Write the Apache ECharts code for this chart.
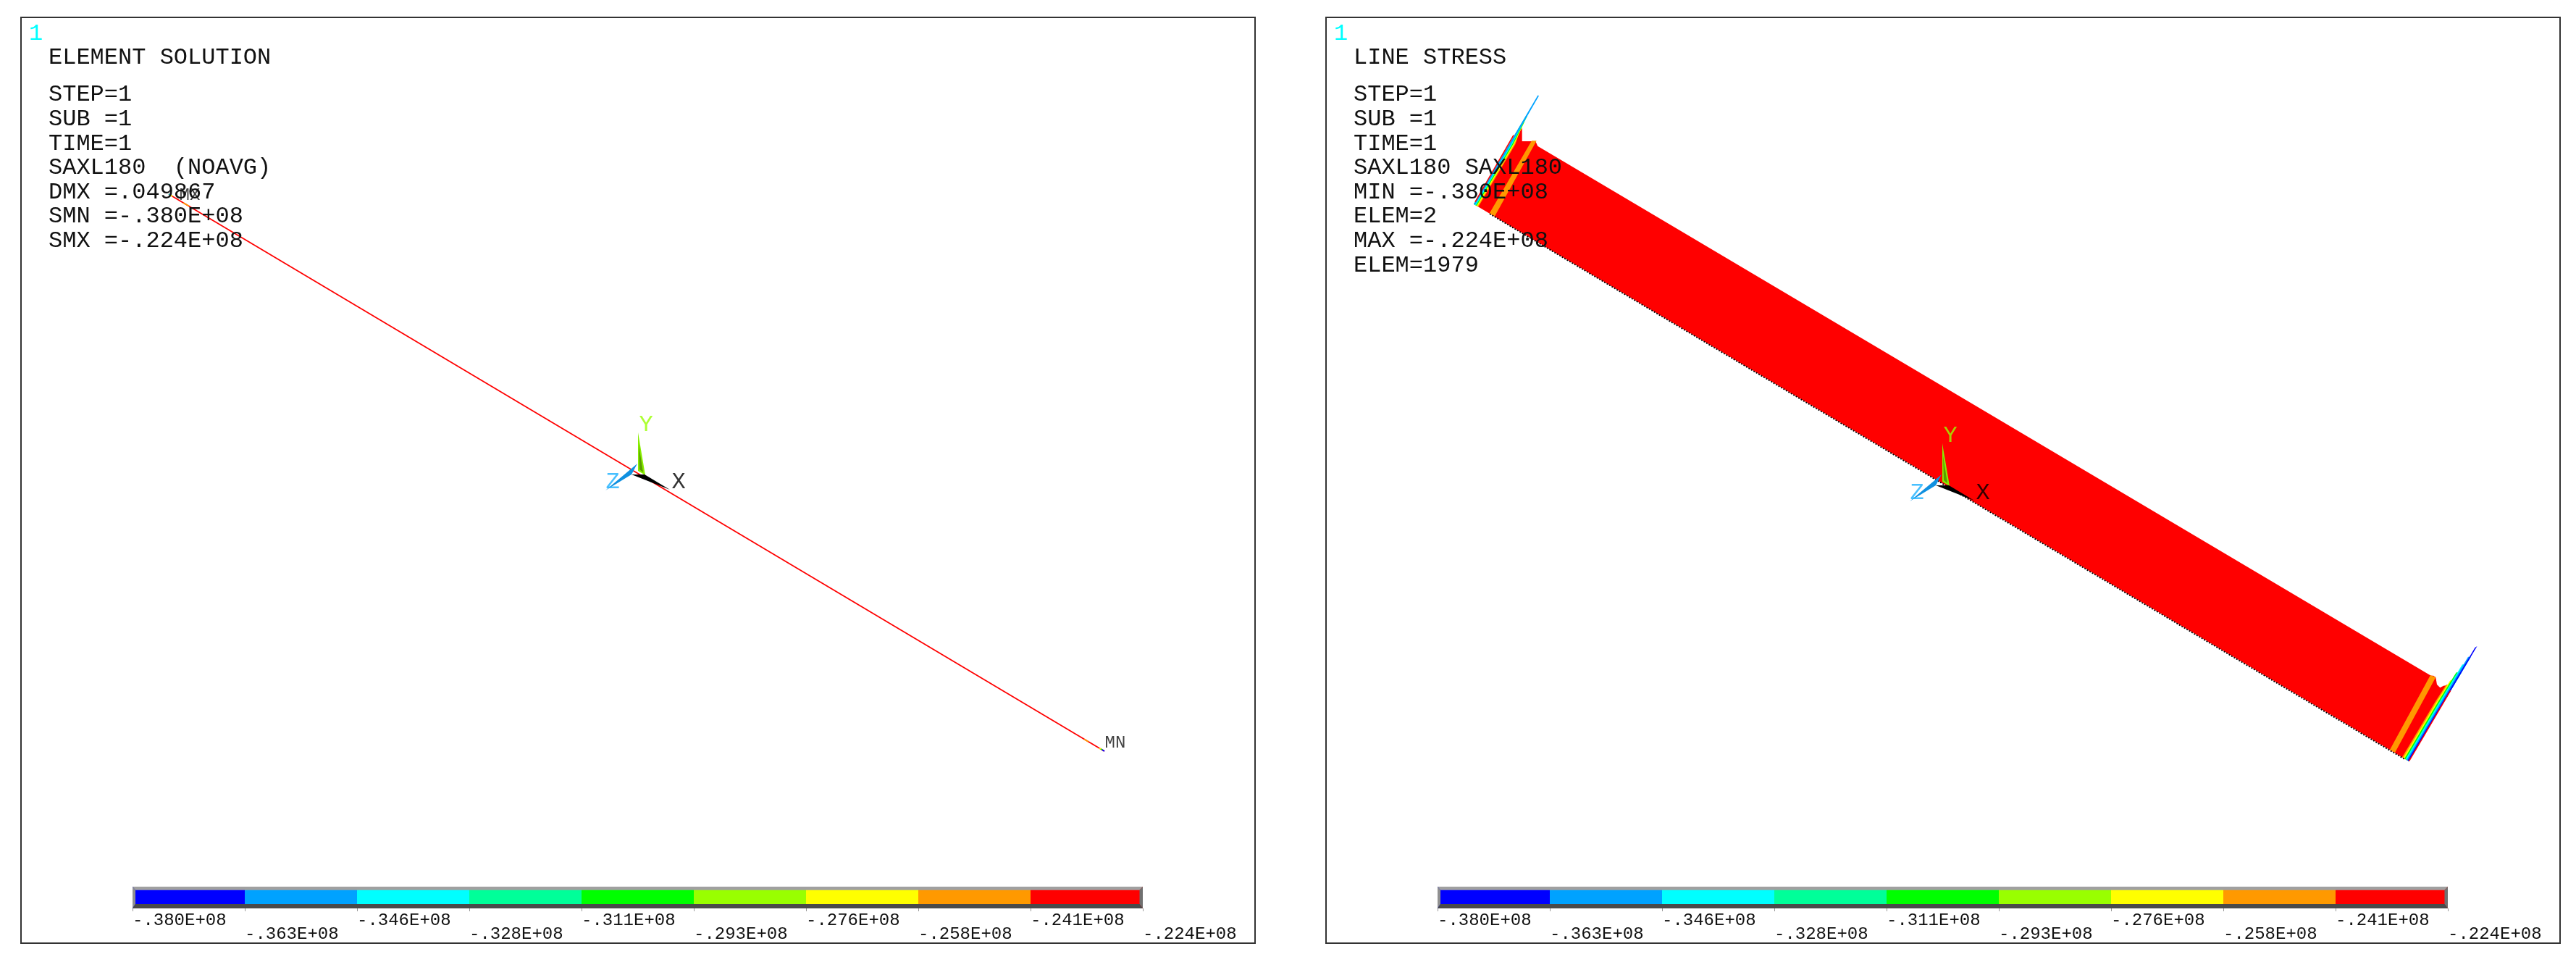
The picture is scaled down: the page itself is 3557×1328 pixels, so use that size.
<!DOCTYPE html>
<html>
<head>
<meta charset="utf-8">
<style>html,body{margin:0;padding:0;background:#fff}#main{width:3557px;height:1328px}</style>
<script src="https://cdn.jsdelivr.net/npm/echarts@6/dist/echarts.min.js"></script>
</head>
<body>
<div id="main"></div>
<script>
// contour bands, blue to red
var bandColors = ['#0000ff', '#00a2ff', '#00ffff', '#00ff99', '#00ff00', '#99ff00', '#ffff00', '#ff9900', '#ff0000'];
var tickLabels = ['-.380E+08', '-.363E+08', '-.346E+08', '-.328E+08', '-.311E+08', '-.293E+08', '-.276E+08', '-.258E+08', '-.241E+08', '-.224E+08'];

var leftTitle = 'ELEMENT SOLUTION';
var leftInfo = ['STEP=1', 'SUB =1', 'TIME=1', 'SAXL180  (NOAVG)', 'DMX =.049867', 'SMN =-.380E+08', 'SMX =-.224E+08'];
var rightTitle = 'LINE STRESS';
var rightInfo = ['STEP=1', 'SUB =1', 'TIME=1', 'SAXL180 SAXL180', 'MIN =-.380E+08', 'ELEM=2', 'MAX =-.224E+08', 'ELEM=1979'];

// left plot: element drawn as a line, [band, x1, y1, x2, y2]
var beamSegments = [
  [8, 204, 244, 1496, 1013],
  [7, 224, 256, 232, 260.5],
  [2, 204, 244, 206, 245],
  [6, 206, 245, 209, 247],
  [7, 1468, 996.5, 1474, 1000],
  [6, 1489, 1009, 1491, 1010],
  [4, 1491, 1010, 1493, 1011],
  [0, 1493, 1011, 1496, 1013]
];
var extremeNames = ['MX', 'MN'];
var extremePoints = [[233, 246], [1511, 1002]];

// right plot: the stress strip across the element, painted back to front
var stripBody = [[204, 257.7], [260, 163], [270.7, 153], [270.7, 171], [287.3, 171], [289.7, 172], [292.3, 177.7], [1525.7, 908.7], [1529, 908.7], [1532.3, 911], [1534, 921], [1538.3, 925.3], [1543, 922.7], [1547.3, 922], [1495, 1026.7]];
var stripBands = [
  [7, [[284, 170.3], [290.7, 170.3], [233, 274.5], [225.7, 270.6]]],
  [7, [[1525, 908], [1532.3, 911], [1476, 1015], [1469, 1011]]],
  // upstream end
  [7, [[270.7, 151], [265.5, 163], [261.5, 175], [210.3, 261.5], [204, 257.7], [267.3, 151]]],
  [6, [[274, 144.3], [260, 175], [209.2, 260.8], [204, 257.7], [271.3, 144.3]]],
  [4, [[278, 136], [258.5, 175], [208, 260], [204, 257.7], [276.2, 136]]],
  [2, [[284, 124.3], [257, 175], [207, 259.5], [204, 257.7], [283.2, 124.3]]],
  [1, [[294, 108.3], [255.5, 175], [205.8, 258.8], [204, 257.7], [292.5, 107.5]]],
  // downstream end
  [7, [[1547, 921], [1531.5, 945], [1486, 1021.3], [1495, 1026.7], [1557.7, 921]]],
  [6, [[1552.3, 915.3], [1533.5, 945], [1487.6, 1022.3], [1495, 1026.7], [1561, 915.3]]],
  [4, [[1560.7, 904.3], [1535.5, 945], [1489.1, 1023.2], [1495, 1026.7], [1568, 904.3]]],
  [2, [[1569, 893.3], [1537.5, 945], [1490.6, 1024], [1495, 1026.7], [1574, 893.3]]],
  [1, [[1577, 882.7], [1539.5, 945], [1492, 1024.9], [1495, 1026.7], [1581, 882.7]]],
  [0, [[1586.5, 870], [1541.5, 945], [1493.5, 1025.8], [1495, 1026.7], [1589.5, 868]]]
];
var stripFringe = [[[259, 162.7], [206, 254.5]], [[1552.7, 929.3], [1495.5, 1026.7]]];
var stripEdge = [[226, 271.2], [1490, 1024.4]];

// global triad, [colour, points], drawn for the left plot and moved for the right one
var triadPolys = [
  ['#88ee00', [[852, 573], [852, 626], [862, 632]]],
  ['#5a9e00', [[853, 590], [854, 624], [859, 628]]],
  ['#000000', [[896, 652], [843, 631], [861, 631]]],
  ['#0f90e0', [[807, 653], [851, 616], [843, 631]]]
];
var triadNames = ['Y', 'Z', 'X'];
var triadNameColors = ['#99ff00', '#1ab0ff', '#000000'];
var triadNamePoints = [[863, 563], [817, 642], [908, 642]];
var rightTriadShift = [-1, 15];

var FONT = '"Liberation Mono"';
var frameW = 1704, frameH = 1278, frameTop = 24;
var panelLeft = [29, 1831];
var barLeftInFrame = 154, barWidth = 1395, barTop = 1224, barHeight = 30;

var grids = [], xAxes = [], yAxes = [], series = [], graphics = [];

function polySeries(gridIdx, polys, z) {
  return {
    type: 'custom', xAxisIndex: gridIdx.x, yAxisIndex: gridIdx.y, z: z, clip: false, silent: true,
    data: polys.map(function (p, i) { return [i]; }),
    encode: { x: 0 },
    renderItem: function (params, api) {
      var p = polys[params.dataIndex];
      return {
        type: 'polygon',
        shape: { points: p[1].map(function (pt) { return api.coord(pt); }) },
        style: { fill: p[0] }
      };
    }
  };
}

function labelSeries(gridIdx, names, points, colors, size) {
  return {
    type: 'scatter', xAxisIndex: gridIdx.x, yAxisIndex: gridIdx.y, z: 20, silent: true,
    symbolSize: 0,
    data: points.map(function (pt, i) {
      return {
        value: pt,
        label: {
          show: true, position: 'inside', formatter: names[i], color: colors ? colors[i] : '#111',
          fontFamily: FONT, fontSize: size
        }
      };
    })
  };
}

function addPanel(p, title, info) {
  var left = panelLeft[p];
  // plot area
  grids.push({ left: left, top: frameTop, width: frameW, height: frameH, show: true, backgroundColor: '#fff', borderColor: '#333', borderWidth: 2 });
  var plotGrid = grids.length - 1;
  xAxes.push({ gridIndex: plotGrid, type: 'value', min: 0, max: frameW, show: false });
  var plotX = xAxes.length - 1;
  yAxes.push({ gridIndex: plotGrid, type: 'value', min: 0, max: frameH, inverse: true, show: false });
  var plotY = yAxes.length - 1;
  var idx = { x: plotX, y: plotY };

  if (p === 0) {
    series.push({
      type: 'lines', coordinateSystem: 'cartesian2d', xAxisIndex: plotX, yAxisIndex: plotY, z: 5, silent: true,
      data: beamSegments.map(function (s) {
        return { coords: [[s[1], s[2]], [s[3], s[4]]], lineStyle: { color: bandColors[s[0]], width: 1.8, opacity: 1 } };
      })
    });
    series.push(labelSeries(idx, extremeNames, extremePoints, null, 24));
  } else {
    var polys = [[bandColors[8], stripBody]].concat(stripBands.map(function (b) { return [bandColors[b[0]], b[1]]; }));
    series.push(polySeries(idx, polys, 5));
    series.push({
      type: 'lines', coordinateSystem: 'cartesian2d', xAxisIndex: plotX, yAxisIndex: plotY, z: 6, silent: true,
      data: stripFringe.map(function (c) { return { coords: c, lineStyle: { color: '#ff0000', width: 1.5, opacity: 1 } }; })
        .concat([{ coords: stripEdge, lineStyle: { color: '#000', width: 1.8, type: [2, 2], opacity: 1 } }])
    });
  }

  // triad
  var shift = p === 0 ? [0, 0] : rightTriadShift;
  series.push(polySeries(idx, triadPolys.map(function (t) {
    return [t[0], t[1].map(function (pt) { return [pt[0] + shift[0], pt[1] + shift[1]]; })];
  }), 8));
  series.push(labelSeries(idx, triadNames, triadNamePoints.map(function (pt) {
    return [pt[0] + shift[0], pt[1] + shift[1]];
  }), triadNameColors, 32));

  // contour key
  grids.push({ left: left + barLeftInFrame, top: barTop, width: barWidth, height: barHeight });
  var barGrid = grids.length - 1;
  xAxes.push({
    gridIndex: barGrid, type: 'category', data: tickLabels, position: 'bottom', boundaryGap: false,
    axisLine: { show: false },
    axisTick: { show: true, alignWithLabel: true, length: 4, lineStyle: { color: '#999', width: 1 } },
    axisLabel: {
      interval: 0, align: 'left', margin: 5, color: '#111', fontFamily: FONT, fontSize: 24, showMaxLabel: true, hideOverlap: false,
      formatter: function (v, i) { return i % 2 === 0 ? v : ''; }
    }
  });
  var barX = xAxes.length - 1;
  xAxes.push({
    gridIndex: barGrid, type: 'category', data: tickLabels, position: 'bottom', boundaryGap: false,
    axisLine: { show: false }, axisTick: { show: false },
    axisLabel: {
      interval: 0, align: 'left', margin: 24, color: '#111', fontFamily: FONT, fontSize: 24, showMaxLabel: true, hideOverlap: false,
      formatter: function (v, i) { return i % 2 === 1 ? v : ''; }
    }
  });
  yAxes.push({ gridIndex: barGrid, type: 'value', min: 0, max: 1, show: false });
  var barY = yAxes.length - 1;
  series.push({
    type: 'custom', xAxisIndex: barX, yAxisIndex: barY, z: 3, silent: true,
    data: bandColors.map(function (c, i) { return [i]; }),
    renderItem: function (params, api) {
      var i = params.dataIndex;
      var a = api.coord([i, 1]), b = api.coord([i + 1, 0]);
      return { type: 'rect', shape: { x: a[0], y: a[1], width: b[0] - a[0], height: b[1] - a[1] }, style: { fill: bandColors[i] } };
    }
  });

  // bevel round the key
  var kx = left + barLeftInFrame, kr = kx + barWidth, kb = barTop + barHeight;
  [
    ['#a0a0a0', [[kx, barTop], [kr, barTop], [kr - 4.5, barTop + 4.7], [kx + 4, barTop + 4.7]]],
    ['#909090', [[kx, barTop], [kx + 4, barTop + 4.7], [kx + 4, kb - 6], [kx, kb]]],
    ['#707070', [[kr, barTop], [kr - 4.5, barTop + 4.7], [kr - 4.5, kb - 6], [kr, kb]]],
    ['#4a4a4a', [[kx, kb], [kx + 4, kb - 6], [kr - 4.5, kb - 6], [kr, kb]]]
  ].forEach(function (b) {
    graphics.push({ type: 'polygon', z: 50, silent: true, shape: { points: b[1] }, style: { fill: b[0] } });
  });

  // window number and status text
  var textX = left + 38;
  graphics.push({ type: 'text', z: 100, silent: true, x: left + 11, y: 47, style: { text: '1', fill: '#00ffff', font: '32px ' + FONT, textVerticalAlign: 'middle' } });
  graphics.push({ type: 'text', z: 100, silent: true, x: textX, y: 80, style: { text: title, fill: '#111', font: '32px ' + FONT, textVerticalAlign: 'middle' } });
  info.forEach(function (line, i) {
    graphics.push({ type: 'text', z: 100, silent: true, x: textX, y: 131 + i * 33.6, style: { text: line, fill: '#111', font: '32px ' + FONT, textVerticalAlign: 'middle' } });
  });
}

addPanel(0, leftTitle, leftInfo);
addPanel(1, rightTitle, rightInfo);

var chart = echarts.init(document.getElementById('main'));
chart.setOption({
  backgroundColor: '#fff',
  animation: false,
  grid: grids,
  xAxis: xAxes,
  yAxis: yAxes,
  series: series,
  graphic: graphics
});
</script>
</body>
</html>
